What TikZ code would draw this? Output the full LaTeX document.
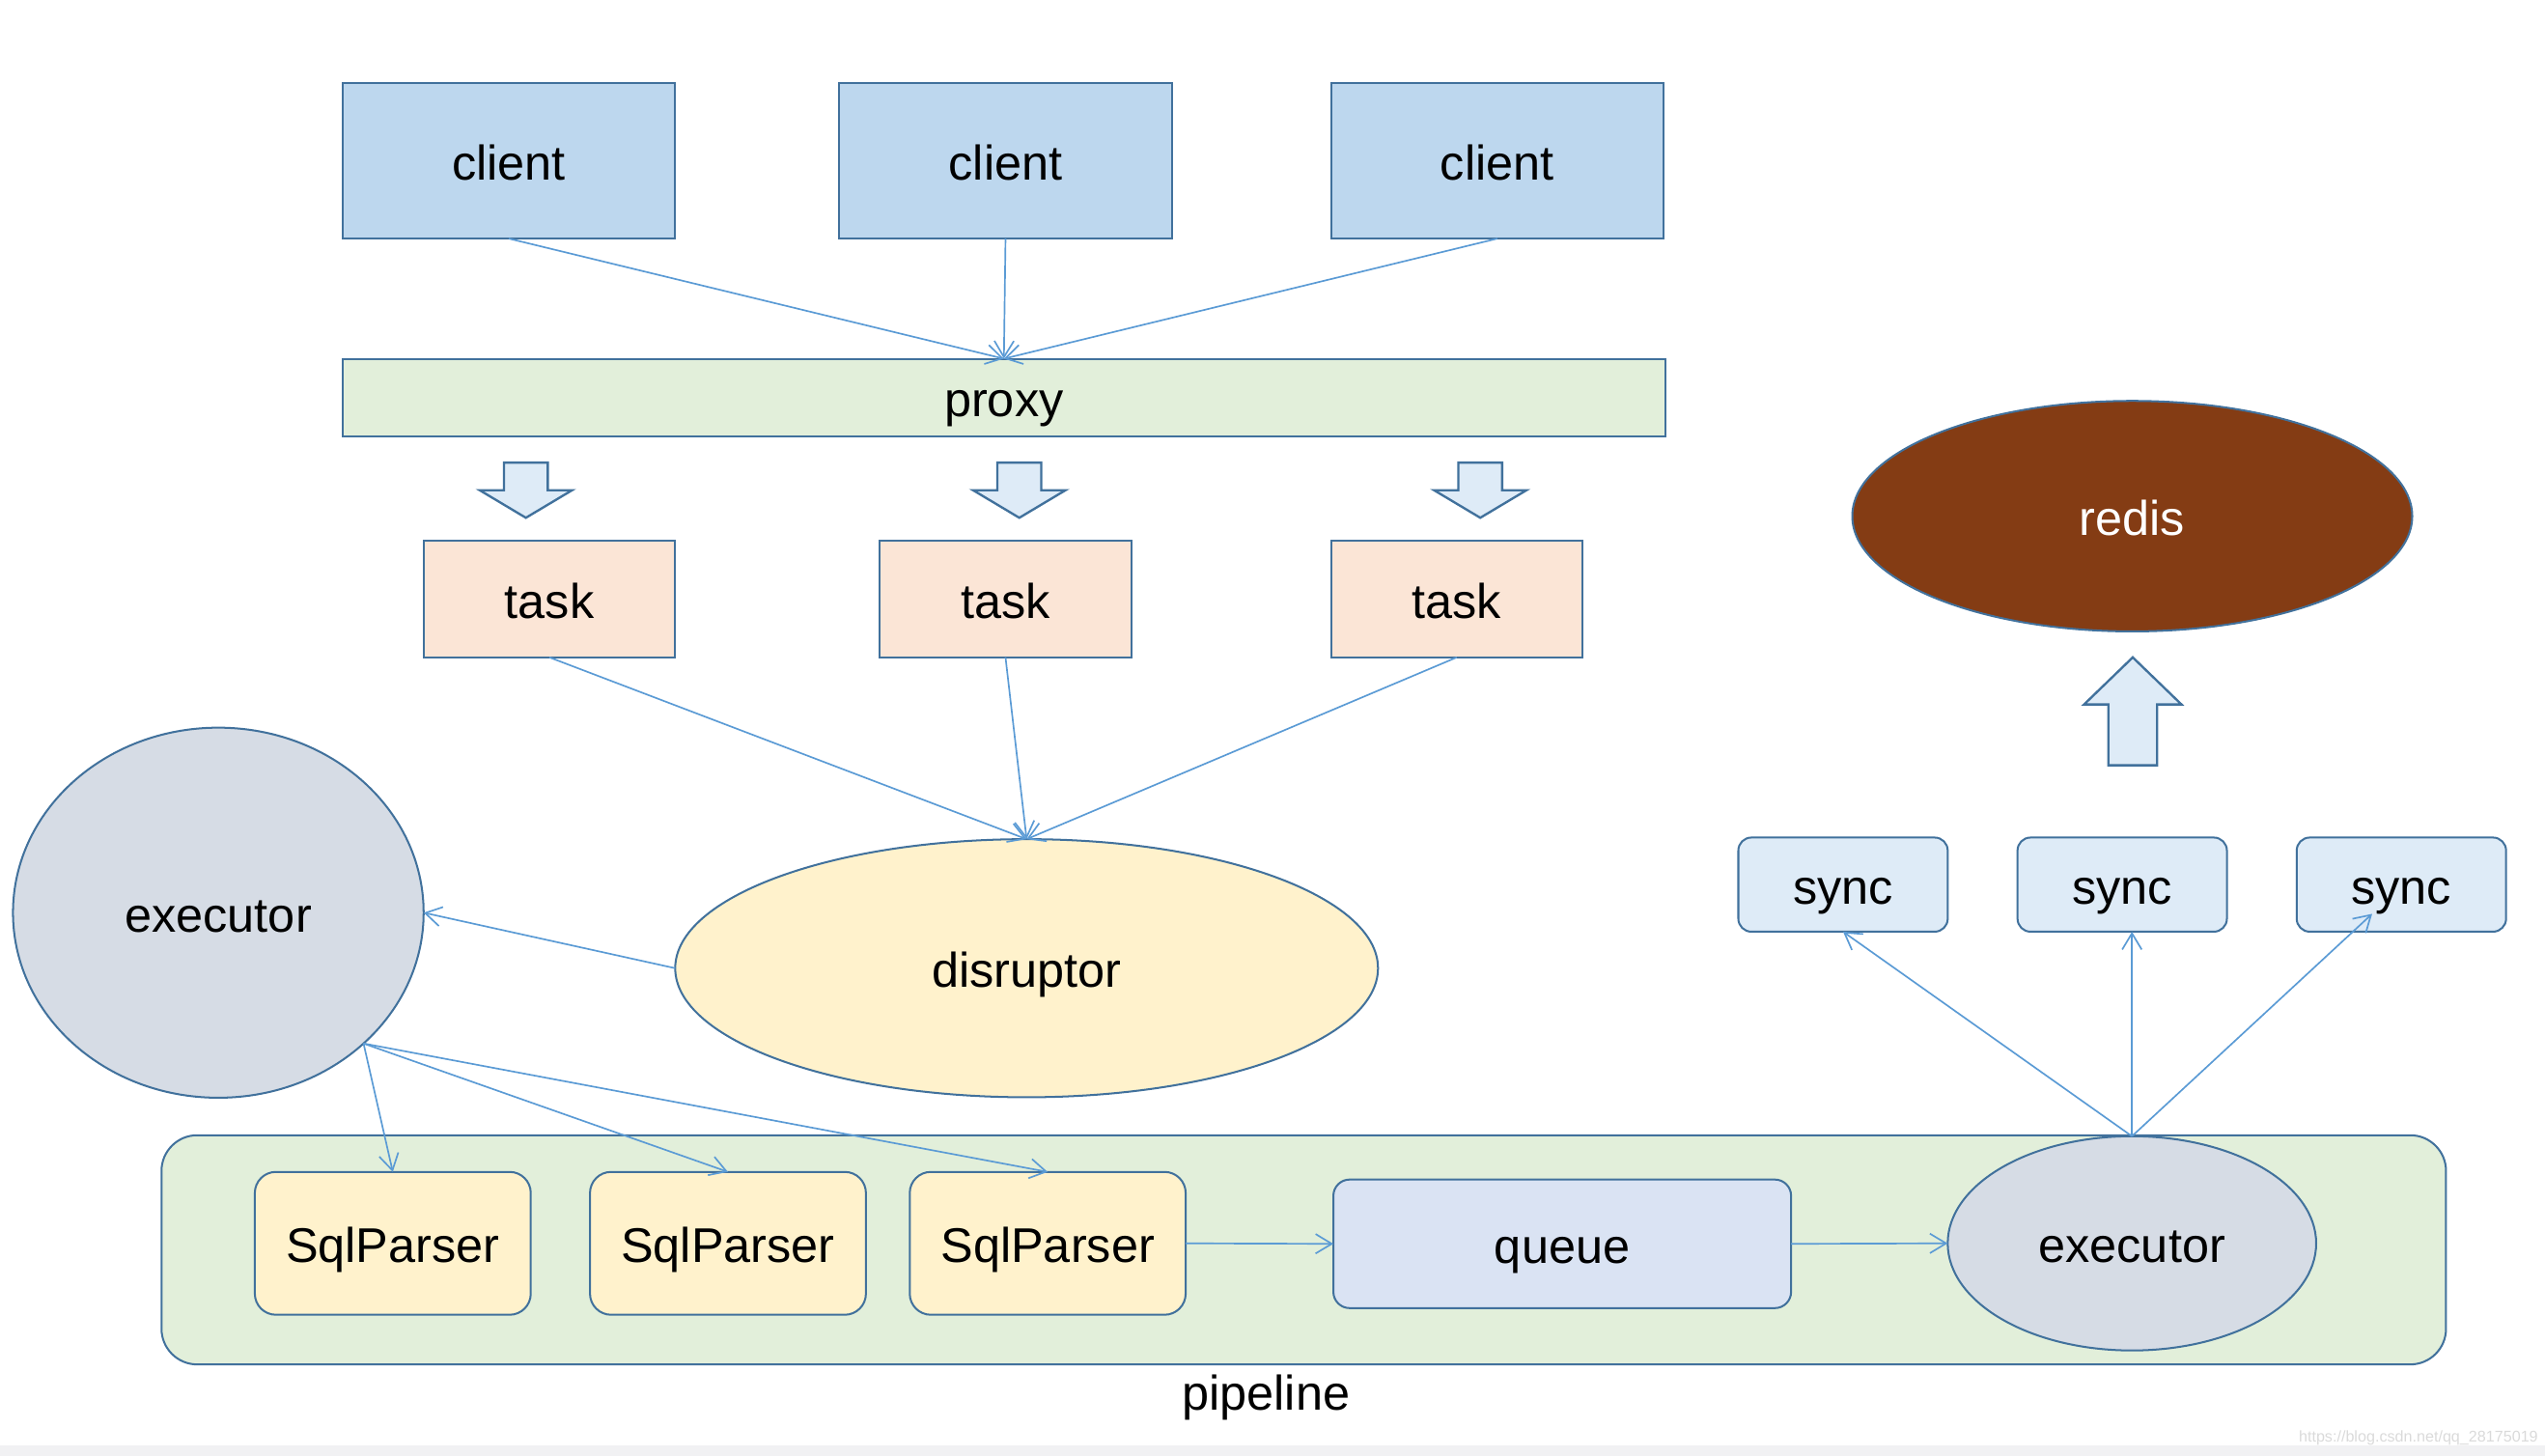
\documentclass[tikz,border=0pt]{standalone}
\usepackage{fontspec}
\setmainfont{Liberation Sans}
\usepackage{xcolor}
\definecolor{Client Blue}{HTML}{BDD7EE}
\definecolor{Frame Blue}{HTML}{41719C}
\definecolor{Link Blue}{HTML}{5B9BD5}
\colorlet{cClient}{Client Blue}
\colorlet{cBorder}{Frame Blue}
\colorlet{cLine}{Link Blue}
\definecolor{cGreen}{HTML}{E2EFDA}
\definecolor{cTask}{HTML}{FBE5D6}
\definecolor{cExec}{HTML}{D6DCE5}
\definecolor{cDisruptor}{HTML}{FFF2CC}
\definecolor{cRedis}{HTML}{843C14}
\definecolor{cSync}{HTML}{DEEBF7}
\definecolor{cQueue}{HTML}{DAE3F3}
\definecolor{cBand}{HTML}{F1F1F3}
\definecolor{cMark}{HTML}{DADADA}
\usepackage{tikz}
\usetikzlibrary{calc, positioning, arrows.meta, shapes.geometric}
\tikzset{
	line width = .6pt,
	>={Straight Barb[length=5pt,width=6pt]},
	font = \fontsize{15}{18}\selectfont,
	label text/.style={
		text height=14.8pt,
		text depth=3pt
	},
	block/.style={
		label text,
		draw=cBorder,
		line width=.6pt,
		inner sep=0pt,
		outer sep=0pt,
		text=black
	},
	client/.style={block, fill=cClient, minimum width=102.5pt, minimum height=48pt},
	task/.style={block, fill=cTask, minimum width=77.5pt, minimum height=36pt},
	ring/.style={block, ellipse},
	parser/.style={block, rounded corners=6.5pt, fill=cDisruptor, minimum width=85pt, minimum height=44pt},
	sync/.style={block, rounded corners=4pt, fill=cSync, minimum width=64.5pt, minimum height=29pt},
	link/.style={
		->,
		draw=cLine,
		line width=.5pt
	},
	fat arrow/.style={
		draw=cBorder,
		fill=cSync,
		line width=.7pt
	}
}

\begin{document}
\begin{tikzpicture}[x=.5pt, y=-.5pt]
	\useasboundingbox (0,0) rectangle (1568,897);
	\fill[cBand] (0,890.5) rectangle (1568,897);

	\node[client] (c1) at (313.5,99) {client};
	\node[client] (c2) at (619.5,99) {client};
	\node[client] (c3) at (922.5,99) {client};
	\node[block, fill=cGreen, minimum width=407.5pt, minimum height=24pt] (proxy) at (618.5,245) {proxy};

	\draw[link] (c1.south) to (proxy.north);
	\draw[link] (c2.south) to (proxy.north);
	\draw[link] (c3.south) to (proxy.north);

	% proxy hands out tasks
	\foreach \x in {324,628,912}
		\draw[fat arrow] (\x-13.5,285) -- (\x+13.5,285) -- (\x+13.5,302) -- (\x+28.5,302)
			-- (\x,319) -- (\x-28.5,302) -- (\x-13.5,302) -- cycle;

	\node[task] (t1) at (338.5,369) {task};
	\node[task] (t2) at (619.5,369) {task};
	\node[task] (t3) at (897.5,369) {task};

	\node[ring, fill=cDisruptor, minimum width=216.5pt, minimum height=79.5pt] (disruptor) at (632.5,596.5) {disruptor};
	\node[ring, fill=cExec, minimum width=126.5pt, minimum height=114pt] (ex1) at (134.5,562.3) {executor};

	\draw[link] (t1.south) to (disruptor.north);
	\draw[link] (t2.south) to (disruptor.north);
	\draw[link] (t3.south) to (disruptor.north);
	\draw[link] (disruptor.west) to (ex1.east);

	% pipeline
	\node[block, rounded corners=11pt, fill=cGreen, minimum width=703.75pt, minimum height=70.6pt] (pipeline) at (803.25,770) {};
	\node[label text, inner sep=0pt] (pipename) at (780,857) {pipeline};

	\node[parser] (sp1) at (242,766) {SqlParser};
	\node[parser] (sp2) at (448.5,766) {SqlParser};
	\node[parser] (sp3) at (645.5,766) {SqlParser};
	\node[block, rounded corners=5pt, fill=cQueue, minimum width=141pt, minimum height=39.6pt] (queue) at (962.5,766.3) {queue};
	\node[ring, fill=cExec, minimum width=113.5pt, minimum height=66pt] (ex2) at (1313.5,766) {executor};

	\draw[link] (ex1.-42) to (sp1.north);
	\draw[link] (ex1.-42) to (sp2.north);
	\draw[link] (ex1.-42) to (sp3.north);
	\draw[link] (sp3.east) to (queue.west);
	\draw[link] (queue.east) to (ex2.west);

	% sync to redis
	\node[sync] (s1) at (1135.5,545) {sync};
	\node[sync] (s2) at (1307.5,545) {sync};
	\node[sync] (s3) at (1479.5,545) {sync};
	\coordinate (s3tip) at ($(s3.center)+(-18,18)$);

	\draw[link] (ex2.north) to (s1.south);
	\draw[link] (ex2.north) to (ex2.north |- s2.south);
	\draw[link] (ex2.north) to (s3tip);

	\draw[fat arrow] (1314,405) -- (1344,434) -- (1329,434) -- (1329,471.5)
		-- (1299,471.5) -- (1299,434) -- (1284,434) -- cycle;

	\node[ring, fill=cRedis, text=white, minimum width=172.5pt, minimum height=71pt] (redis) at (1313.7,318) {redis};

	\node[text=cMark, font=\fontsize{4.8}{6}\selectfont] (mark) at (1490,886) {https://blog.csdn.net/qq\_28175019};
\end{tikzpicture}
\end{document}
